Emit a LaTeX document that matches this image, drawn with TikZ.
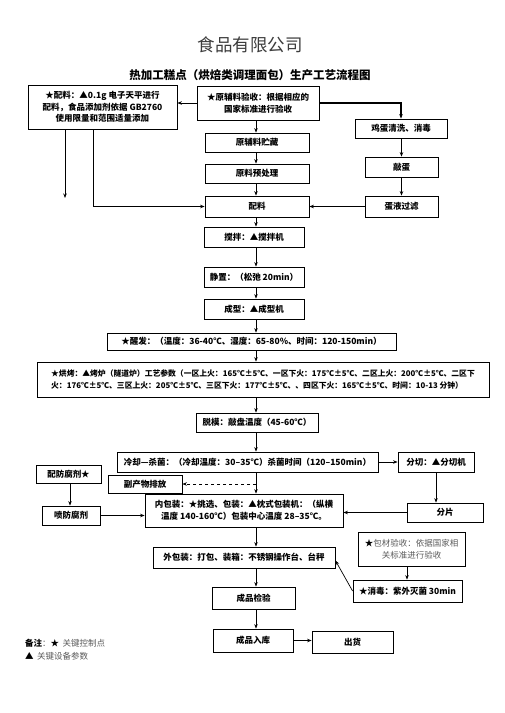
\documentclass[tikz,border=0pt]{standalone}
\usepackage{fontspec}
\setmainfont{Noto Sans CJK SC}
\usetikzlibrary{arrows.meta}
\definecolor{titlegray}{RGB}{60,60,60}
\definecolor{notegray}{RGB}{90,90,90}
\begin{document}
\begin{tikzpicture}[x=1pt,y=-1pt,
  bx/.style={draw,line width=0.8pt,inner sep=1pt,font=\fontsize{8.5}{11.5}\selectfont\bfseries,align=center},
  thinbx/.style={draw,line width=0.8pt,inner sep=1pt,font=\fontsize{8.5}{12}\selectfont,text=notegray,align=center},
  arr/.style={line width=0.7pt,-{Stealth[length=4.5pt,width=3.5pt]}},
  dasharr/.style={arr,dashed},
]
\useasboundingbox (0,0) rectangle (504,713);
% titles
\node[font=\fontsize{17.5}{20}\selectfont,text=titlegray] (t1) at (250,45) {食品有限公司};
\node[font=\fontsize{11.5}{14}\selectfont\bfseries] (t2) at (250,75) {热加工糕点（烘焙类调理面包）生产工艺流程图};
% column x
\coordinate (mx) at (256,0);
\coordinate (lbx) at (93,0);
\coordinate (lbend) at (65,198);
\coordinate (cx) at (436,0);
\coordinate (px) at (70,0);
\coordinate (kx) at (407,0);
% boxes
\node[bx,minimum width=149pt,minimum height=44pt] (lb) at (102.5,107) {★配料：▲0.1g 电子天平进行\\配料，食品添加剂依据 GB2760\\使用限量和范围适量添加};
\node[bx,minimum width=122pt,minimum height=34pt] (recv) at (258,103) {★原辅料验收：根据相应的\\国家标准进行验收};
\node[bx,minimum width=104pt,minimum height=19pt] (store) at (257,142.5) {原辅料贮藏};
\node[bx,minimum width=104pt,minimum height=19pt] (pre) at (257,173.5) {原料预处理};
\node[bx,minimum width=104pt,minimum height=21pt] (mix) at (257,206.5) {配料};
\node[bx,minimum width=92pt,minimum height=19pt] (egg1) at (401,128.5) {鸡蛋清洗、消毒};
\node[bx,minimum width=73pt,minimum height=20pt] (egg2) at (401.5,167) {敲蛋};
\node[bx,minimum width=73pt,minimum height=21pt] (egg3) at (401.5,206.5) {蛋液过滤};
\node[bx,minimum width=100pt,minimum height=20pt] (stir) at (254,237) {搅拌：▲搅拌机};
\node[bx,minimum width=100pt,minimum height=20pt] (rest) at (254,277) {静置：（松弛 20min）};
\node[bx,minimum width=100pt,minimum height=20pt] (shp) at (254,309) {成型：▲成型机};
\node[bx,minimum width=289pt,minimum height=17pt] (proof) at (251.5,341.5) {★醒发：（温度：36-40℃、湿度：65-80\%、时间：120-150min）};
\node[bx,minimum width=452pt,minimum height=35pt,align=left,font=\fontsize{7.8}{12.5}\selectfont\bfseries] (bake) at (263,379.5) {★烘烤：▲烤炉（隧道炉）工艺参数（一区上火：165℃±5℃、一区下火：175℃±5℃、二区上火：200℃±5℃、二区下\\火：176℃±5℃、三区上火：205℃±5℃、三区下火：177℃±5℃、、四区下火：165℃±5℃、时间：10-13 分钟）};
\node[bx,minimum width=122pt,minimum height=19pt] (demold) at (257,422.5) {脱模：敲盘温度（45-60℃）};
\node[bx,minimum width=261pt,minimum height=20pt] (cool) at (247.5,462) {冷却—杀菌：（冷却温度：30–35℃）杀菌时间（120–150min）};
\node[bx,minimum width=76pt,minimum height=20pt] (cut) at (436,462) {分切：▲分切机};
\node[bx,minimum width=65pt,minimum height=18pt] (pres) at (68.5,474) {配防腐剂★};
\node[bx,minimum width=74pt,minimum height=18pt] (byp) at (145,484) {副产物排放};
\node[bx,minimum width=198pt,minimum height=33pt] (inner) at (244,510.5) {内包装：★挑选、包装：▲枕式包装机：（纵横\\温度 140-160℃）包装中心温度 28–35℃。};
\node[bx,minimum width=58pt,minimum height=19pt] (spray) at (71,515.5) {喷防腐剂};
\node[bx,minimum width=76pt,minimum height=19pt] (slice) at (445,512.5) {分片};
\node[bx,minimum width=182pt,minimum height=21pt] (outer) at (244,557.5) {外包装：打包、装箱：不锈钢操作台、台秤};
\node[thinbx,minimum width=107pt,minimum height=34pt] (pkg) at (411.5,549) {{\color{black}★}包材验收：依据国家相\\关标准进行验收};
\node[bx,minimum width=109pt,minimum height=22pt] (dis) at (407.5,591) {★消毒：紫外灭菌 30min};
\node[bx,minimum width=83pt,minimum height=22pt] (qc) at (253.5,598) {成品检验};
\node[bx,minimum width=80pt,minimum height=23pt] (wh) at (253,640.5) {成品入库};
\node[bx,minimum width=81pt,minimum height=22pt] (ship) at (352.5,642) {出货};
% legend
\node[anchor=west,font=\fontsize{8.5}{10}\selectfont,text=notegray,inner sep=0pt] (leg1) at (25,643) {{\color{black}\bfseries 备注}：{\color{black}★}\, 关键控制点};
\node[anchor=west,font=\fontsize{8.5}{10}\selectfont,text=notegray,inner sep=0pt] (leg2) at (25,656) {{\color{black}▲}\, 关键设备参数};
% connectors
\draw[arr] (recv.west) -- (recv.west -| lb.east);
\draw[arr,line width=1.3pt] (recv.east) -| (egg1.north);
\draw[arr] (recv.south -| mx) -- (store.north -| mx);
\draw[arr] (store.south -| mx) -- (pre.north -| mx);
\draw[arr] (pre.south -| mx) -- (mix.north -| mx);
\draw[arr] (mix.south -| mx) -- (stir.north -| mx);
\draw[arr] (stir.south -| mx) -- (rest.north -| mx);
\draw[arr] (rest.south -| mx) -- (shp.north -| mx);
\draw[arr] (shp.south -| mx) -- (proof.north -| mx);
\draw[arr] (proof.south -| mx) -- (bake.north -| mx);
\draw[arr] (bake.south -| mx) -- (demold.north -| mx);
\draw[arr] (demold.south -| mx) -- (cool.north -| mx);
\draw[arr] (cool.south -| mx) -- (inner.north -| mx);
\draw[dasharr] (byp.east -| mx) -- (byp.east);
\draw[arr] (inner.south -| mx) -- (outer.north -| mx);
\draw[arr] (outer.south -| mx) -- (qc.north -| mx);
\draw[arr] (qc.south -| mx) -- (wh.north -| mx);
\draw[arr] (wh.east) -- (wh.east -| ship.west);
\draw[arr] (egg1.south -| egg2.north) -- (egg2.north);
\draw[arr] (egg2.south) -- (egg3.north);
\draw[arr] (egg3.west) -- (egg3.west -| mix.east);
\draw[arr] (lb.south -| lbend) -- (lbend);
\draw[arr] (lb.south -| lbx) |- (mix.west);
\draw[arr] (cool.east) -- (cut.west);
\draw[arr] (cut.south -| cx) -- (slice.north -| cx);
\draw[arr] (slice.west) -- (slice.west -| inner.east);
\draw[arr] (pres.south -| px) -- (spray.north -| px);
\draw[arr] (spray.east) -- (spray.east -| inner.west);
\draw[arr] (pkg.south -| kx) -- (dis.north -| kx);
\draw[arr] (dis.west) -- ([yshift=-3pt]outer.east);
\end{tikzpicture}
\end{document}
